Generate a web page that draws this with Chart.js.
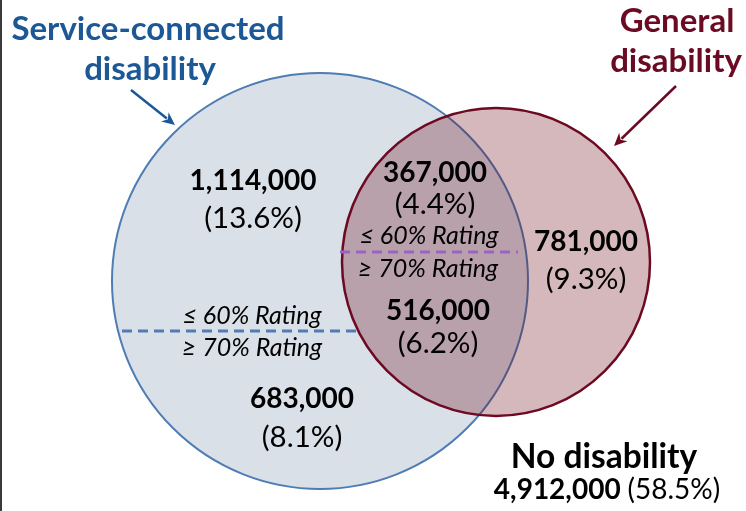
<!DOCTYPE html>
<html>
<head>
<meta charset="utf-8">
<script src="https://cdn.jsdelivr.net/npm/chart.js@4.4.1/dist/chart.umd.min.js"></script>
<style>
  html, body { margin: 0; padding: 0; background: #fff; overflow: hidden; }
  #wrap { position: relative; width: 746px; height: 511px; }
</style>
</head>
<body>
<div id="wrap"><canvas id="venn" width="746" height="511"></canvas></div>
<script>
// sets and region values (people)
const sets = ['Service-connected disability', 'General disability'];
const regions = ['SC only, ≤ 60%', 'SC only, ≥ 70%', 'Both, ≤ 60%', 'Both, ≥ 70%', 'General only', 'No disability'];
const counts = [1114000, 683000, 367000, 516000, 781000, 4912000];
const shares = [13.6, 8.1, 4.4, 6.2, 9.3, 58.5];
const ratingLabels = ['≤ 60% Rating', '≥ 70% Rating'];

// layout (in scale units = px)
const circles = [
    { x: 320, y: 281, r: 208 },   // service-connected
    { x: 496, y: 262, r: 154 }    // general
];
const FONT = 'Lato, "Open Sans", sans-serif';
const BLUE = '#1d5896';
const MAROON = '#6b0b23';

const fmt = n => n.toLocaleString('en-US');
const pct = s => '(' + s.toFixed(1) + '%)';

// where each region label goes: [x, baseline of count, baseline of share]
const regionPos = [
    [253, 190, 228],
    [302, 408, 447],
    [435, 182, 214],
    [438, 320, 353],
    [586, 251, 289]
];

const vennLabels = {
    id: 'vennLabels',
    beforeDraw(chart) {
        const ctx = chart.ctx;
        ctx.save();
        ctx.fillStyle = '#3a3a3a';
        ctx.fillRect(0, 0, 2, chart.height);
        ctx.restore();
    },
    afterDatasetsDraw(chart) {
        const ctx = chart.ctx;
        const xs = chart.scales.x, ys = chart.scales.y;
        const px = v => xs.getPixelForValue(v);
        const py = v => ys.getPixelForValue(v);

        ctx.save();
        // dashed rating dividers
        ctx.lineWidth = 3;
        ctx.setLineDash([10, 6]);
        ctx.strokeStyle = '#4f7db3';
        ctx.beginPath();
        ctx.moveTo(px(122), py(331));
        ctx.lineTo(px(358), py(331));
        ctx.stroke();
        ctx.strokeStyle = '#9b62c8';
        ctx.beginPath();
        ctx.moveTo(px(340), py(252));
        ctx.lineTo(px(518), py(252));
        ctx.stroke();
        ctx.setLineDash([]);

        ctx.textAlign = 'center';
        ctx.textBaseline = 'alphabetic';
        const text = (t, x, y, font, color) => {
            ctx.font = font;
            ctx.fillStyle = color;
            ctx.fillText(t, px(x), py(y));
        };

        // region values
        for (let i = 0; i < regionPos.length; i++) {
            const [x, y1, y2] = regionPos[i];
            text(fmt(counts[i]), x, y1, 'bold 28px ' + FONT, '#000');
            text(pct(shares[i]), x, y2, '29.5px ' + FONT, '#000');
        }

        // rating labels
        const it = 'italic 25px ' + FONT;
        text(ratingLabels[0], 252, 324, it, '#000');
        text(ratingLabels[1], 252, 356, it, '#000');
        text(ratingLabels[0], 429, 244, it, '#000');
        text(ratingLabels[1], 428, 277, it, '#000');

        // no disability
        text(regions[5], 604, 468, 'bold 33.5px ' + FONT, '#000');
        const a = fmt(counts[5]) + ' ', b = pct(shares[5]);
        ctx.font = 'bold 28px ' + FONT;
        const wa = ctx.measureText(a).width;
        ctx.font = '28px ' + FONT;
        const wb = ctx.measureText(b).width;
        const x0 = px(607) - (wa + wb) / 2;
        ctx.textAlign = 'left';
        ctx.font = 'bold 28px ' + FONT;
        ctx.fillText(a, x0, py(499));
        ctx.font = '28px ' + FONT;
        ctx.fillText(b, x0 + wa, py(499));
        ctx.textAlign = 'center';

        // set titles
        const tf = 'bold 33px ' + FONT;
        text('Service-connected', 148, 40, tf, BLUE);
        text('disability', 150, 80, tf, BLUE);
        text('General', 677, 32, tf, MAROON);
        text('disability', 676, 72, tf, MAROON);

        // arrows
        const arrow = (x1, y1, x2, y2, color) => {
            const ax = px(x1), ay = py(y1), bx = px(x2), by = py(y2);
            const ang = Math.atan2(by - ay, bx - ax);
            const L = 13, W = 6;
            ctx.strokeStyle = color;
            ctx.fillStyle = color;
            ctx.lineWidth = 2.5;
            ctx.beginPath();
            ctx.moveTo(ax, ay);
            ctx.lineTo(bx - Math.cos(ang) * L * 0.8, by - Math.sin(ang) * L * 0.8);
            ctx.stroke();
            ctx.beginPath();
            ctx.moveTo(bx, by);
            ctx.lineTo(bx - Math.cos(ang) * L + Math.sin(ang) * W, by - Math.sin(ang) * L - Math.cos(ang) * W);
            ctx.lineTo(bx - Math.cos(ang) * L * 0.7, by - Math.sin(ang) * L * 0.7);
            ctx.lineTo(bx - Math.cos(ang) * L - Math.sin(ang) * W, by - Math.sin(ang) * L + Math.cos(ang) * W);
            ctx.closePath();
            ctx.fill();
        };
        arrow(131, 90, 175, 125, BLUE);
        arrow(676, 86, 614, 146, MAROON);
        ctx.restore();
    }
};

new Chart(document.getElementById('venn'), {
    type: 'bubble',
    data: {
        datasets: [
            {
                label: sets[1],
                data: [circles[1]],
                backgroundColor: 'rgba(100, 0, 12, 0.28)',
                borderColor: '#6d0a22',
                borderWidth: 2.5,
                order: 0,
                clip: false
            },
            {
                label: sets[0],
                data: [circles[0]],
                backgroundColor: '#d9e0e8',
                borderColor: '#4f7db3',
                borderWidth: 2,
                order: 1,
                clip: false
            }
        ]
    },
    options: {
        responsive: false,
        animation: false,
        events: [],
        layout: { padding: 0, autoPadding: false },
        plugins: { legend: { display: false }, tooltip: { enabled: false } },
        scales: {
            x: { type: 'linear', min: 0, max: 746, display: false },
            y: { type: 'linear', min: 0, max: 511, reverse: true, display: false }
        }
    },
    plugins: [vennLabels]
});
</script>
</body>
</html>
